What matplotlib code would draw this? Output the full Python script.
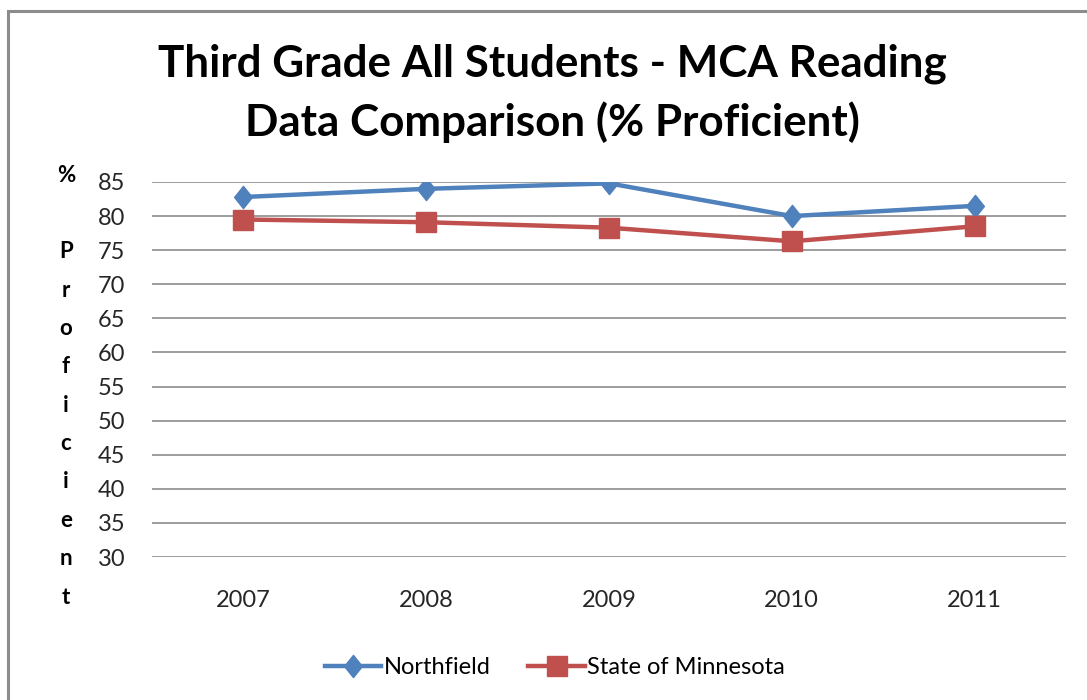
import matplotlib
matplotlib.use("Agg")
import matplotlib.pyplot as plt
from matplotlib.patches import Rectangle
from matplotlib.lines import Line2D
from matplotlib.path import Path

years = ["2007", "2008", "2009", "2010", "2011"]
northfield = [82.8, 84.0, 84.8, 80.0, 81.5]
minnesota = [79.5, 79.1, 78.3, 76.3, 78.5]
yticks = [30, 35, 40, 45, 50, 55, 60, 65, 70, 75, 80, 85]

FONT = "Lato"
plt.rcParams['font.family'] = [FONT, 'DejaVu Sans']

BLUE = "#4F81BD"
RED = "#C0504D"
diamond = Path([(0, 1), (0.8, 0), (0, -1), (-0.8, 0), (0, 1)],
               [Path.MOVETO, Path.LINETO, Path.LINETO, Path.LINETO, Path.CLOSEPOLY])

W, H = 1087, 700
fig = plt.figure(figsize=(W/100, H/100), dpi=100)
fig.patch.set_facecolor("white")

# chart border (left and top visible)
fig.patches.append(Rectangle((8/W, -0.05), 1.2, 1 - 11/H + 0.05, transform=fig.transFigure,
                             fill=False, edgecolor="#8c8c8c", linewidth=2.2))

ax = fig.add_axes([152/W, 1 - 557/H, (1066-152)/W, (557-182)/H])
x = list(range(len(years)))
ax.plot(x, northfield, color=BLUE, lw=3.2, marker=diamond, markersize=16, label="Northfield")
ax.plot(x, minnesota, color=RED, lw=3.2, marker="s", markersize=15, label="State of Minnesota")
ax.set_xlim(-0.5, len(years) - 0.5)
ax.set_ylim(30, 85)
ax.set_yticks(yticks)
ax.set_xticks(x)
ax.set_xticklabels(years)
for s in ax.spines.values():
    s.set_visible(False)
ax.tick_params(axis="both", length=0, labelsize=17, labelcolor="#262626")
ax.tick_params(axis="y", pad=19)
ax.tick_params(axis="x", pad=24)
ax.yaxis.grid(True, color="#8c8c8c", lw=1.2)
ax.set_axisbelow(True)
ax.set_facecolor("none")

fig.text(552/W, 1 - 64/H, "Third Grade All Students - MCA Reading", ha="center", va="center",
         fontsize=31.7, fontweight="bold", color="black")
fig.text(552/W, 1 - 122/H, "Data Comparison (% Proficient)", ha="center", va="center",
         fontsize=31.7, fontweight="bold", color="black")

# vertical stacked y label
letters = ["%", "", "P", "r", "o", "f", "i", "c", "i", "e", "n", "t"]
for i, ch in enumerate(letters):
    if ch:
        yy = 175 + (597 - 175) * i / (len(letters) - 1)
        fig.text(66/W, 1 - yy/H, ch, ha="center", va="center", fontsize=16,
                 fontweight="bold", color="black")

handles = [Line2D([], [], color=BLUE, lw=3.2, marker=diamond, markersize=16),
           Line2D([], [], color=RED, lw=3.2, marker="s", markersize=15)]
fig.legend(handles, ["Northfield", "State of Minnesota"], loc="center",
           bbox_to_anchor=(555/W, 1 - 668/H), ncol=2, frameon=False, fontsize=17,
           handlelength=2.4, handletextpad=0.1, columnspacing=1.6)

fig.savefig("out.png", dpi=100)
